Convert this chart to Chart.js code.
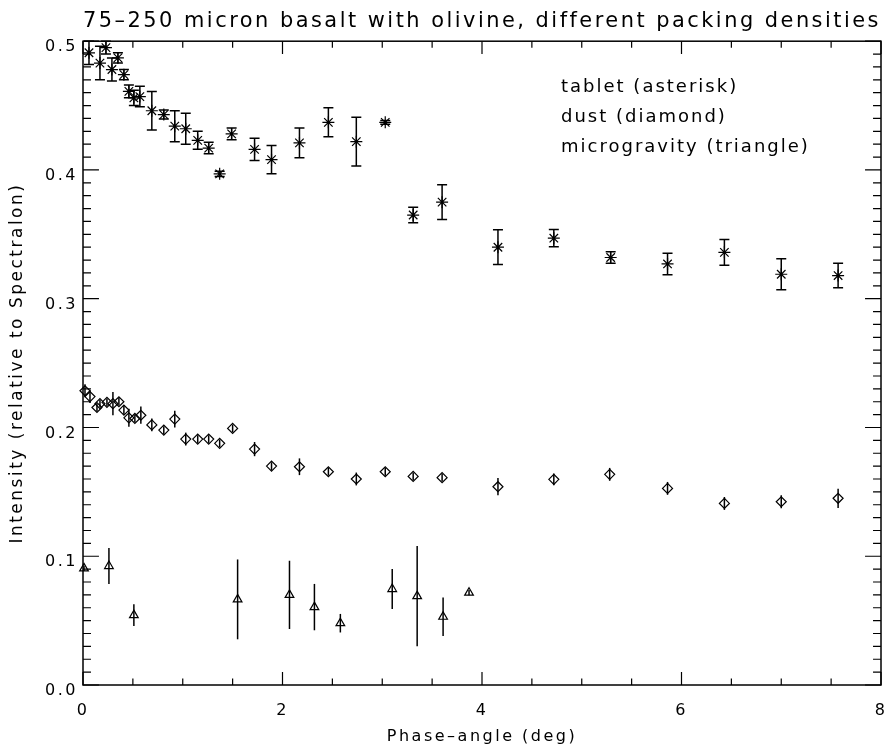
<!DOCTYPE html>
<html>
<head>
<meta charset="utf-8">
<script src="https://cdn.jsdelivr.net/npm/chart.js@4.4.1/dist/chart.umd.min.js"></script>
<style>
    html, body { margin: 0; padding: 0; background: #fff; }
</style>
</head>
<body>
<canvas id="phaseChart" width="891" height="749"></canvas>
<script>
// tablet (asterisk)
var tabletX = [0.06, 0.17, 0.23, 0.29, 0.35, 0.41, 0.46, 0.51, 0.57, 0.69, 0.81, 0.92, 1.03, 1.15, 1.26, 1.37,
               1.49, 1.72, 1.89, 2.17, 2.46, 2.74, 3.03, 3.31, 3.60, 4.16, 4.72, 5.29, 5.86, 6.43, 7.00, 7.57];
var tabletY = [0.491, 0.483, 0.495, 0.478, 0.487, 0.474, 0.461, 0.456, 0.457, 0.446, 0.443, 0.434, 0.432, 0.423, 0.417, 0.397,
               0.428, 0.416, 0.408, 0.421, 0.437, 0.422, 0.437, 0.365, 0.375, 0.340, 0.347, 0.332, 0.327, 0.336, 0.319, 0.318];
var tabletErr = [0.009, 0.013, 0.005, 0.009, 0.004, 0.004, 0.005, 0.006, 0.008, 0.015, 0.0035, 0.012, 0.012, 0.007, 0.0045, 0.002,
                 0.0045, 0.0087, 0.011, 0.0115, 0.0113, 0.019, 0.0015, 0.006, 0.0135, 0.0135, 0.0067, 0.0045, 0.0083, 0.010, 0.012, 0.0095];

// dust (diamond)
var dustX = [0.02, 0.07, 0.14, 0.17, 0.24, 0.30, 0.36, 0.41, 0.46, 0.52, 0.58, 0.69, 0.81, 0.92, 1.03, 1.15, 1.26,
             1.37, 1.50, 1.72, 1.89, 2.17, 2.46, 2.74, 3.03, 3.31, 3.60, 4.16, 4.72, 5.28, 5.86, 6.43, 7.00, 7.57];
var dustY = [0.2285, 0.224, 0.2155, 0.2185, 0.2195, 0.2185, 0.220, 0.2135, 0.2075, 0.207, 0.2095, 0.202, 0.198, 0.2065, 0.191, 0.191, 0.191,
             0.1877, 0.1993, 0.1832, 0.170, 0.1695, 0.1656, 0.160, 0.1656, 0.162, 0.161, 0.154, 0.1597, 0.1636, 0.1527, 0.141, 0.1423, 0.145];
var dustErr = [0.005, 0.005, 0.003, 0.003, 0.003, 0.009, 0.003, 0.0035, 0.007, 0.003, 0.0067, 0.005, 0.003, 0.0065, 0.005, 0.003, 0.003,
               0.003, 0.003, 0.0055, 0.003, 0.0065, 0.003, 0.005, 0.003, 0.003, 0.003, 0.0067, 0.0045, 0.005, 0.005, 0.005, 0.005, 0.0075];

// microgravity (triangle)
var gravX = [0.01, 0.26, 0.51, 1.55, 2.07, 2.32, 2.58, 3.10, 3.35, 3.61, 3.87];
var gravY = [0.0906, 0.0924, 0.0543, 0.0665, 0.070, 0.0605, 0.048, 0.0745, 0.069, 0.053, 0.0717];
var gravErr = [0.002, 0.014, 0.0084, 0.031, 0.0265, 0.018, 0.0072, 0.0155, 0.039, 0.015, 0.002];

var xTicks = [0, 2, 4, 6, 8];
var yTicks = [0.0, 0.1, 0.2, 0.3, 0.4, 0.5];
var xMinorStep = 0.5;
var yMinorStep = 0.01;

var legendLines = ["tablet (asterisk)", "dust (diamond)", "microgravity (triangle)"];

function toPoints(xs, ys) {
    return xs.map(function (x, i) { return { x: x, y: ys[i] }; });
}

// the old IDL font is wide, so space the letters out a bit
var wideText = {
    id: "wideText",
    beforeUpdate: function (chart) { chart.ctx.letterSpacing = "2.5px"; },
    beforeDraw: function (chart) { chart.ctx.letterSpacing = "2.5px"; }
};

// vertical error bars, drawn through the scales
var errorBars = {
    id: "errorBars",
    afterDatasetsDraw: function (chart) {
        var ctx = chart.ctx;
        var ys = chart.scales.y;
        ctx.save();
        ctx.strokeStyle = "#000";
        ctx.lineWidth = 1.5;
        chart.data.datasets.forEach(function (ds, i) {
            var meta = chart.getDatasetMeta(i);
            meta.data.forEach(function (pt, j) {
                var v = ds.data[j].y, e = ds.errors[j];
                var top = ys.getPixelForValue(v + e);
                var bot = ys.getPixelForValue(v - e);
                ctx.beginPath();
                ctx.moveTo(pt.x, top);
                ctx.lineTo(pt.x, bot);
                if (ds.capWidth) {
                    ctx.moveTo(pt.x - ds.capWidth, top);
                    ctx.lineTo(pt.x + ds.capWidth, top);
                    ctx.moveTo(pt.x - ds.capWidth, bot);
                    ctx.lineTo(pt.x + ds.capWidth, bot);
                }
                ctx.stroke();
            });
        });
        ctx.restore();
    }
};

// IDL style box with inward ticks on all four sides, plus the text legend
var axisBox = {
    id: "axisBox",
    afterDraw: function (chart) {
        var ctx = chart.ctx, a = chart.chartArea;
        var xs = chart.scales.x, ys = chart.scales.y;
        var w = a.right - a.left, h = a.bottom - a.top;
        ctx.save();
        ctx.strokeStyle = "#000";
        ctx.lineWidth = 1.5;
        ctx.strokeRect(a.left, a.top, w, h);

        ctx.lineWidth = 1.2;
        ctx.beginPath();
        for (var v = xs.min; v <= xs.max + 1e-9; v += xMinorStep) {
            var px = xs.getPixelForValue(v);
            var len = xTicks.indexOf(Math.round(v * 100) / 100) >= 0 ? 0.02 * h : 0.01 * h;
            ctx.moveTo(px, a.bottom); ctx.lineTo(px, a.bottom - len);
            ctx.moveTo(px, a.top); ctx.lineTo(px, a.top + len);
        }
        for (var k = 0; k <= Math.round((ys.max - ys.min) / yMinorStep); k++) {
            var val = Math.round((ys.min + k * yMinorStep) * 100) / 100;
            var py = ys.getPixelForValue(val);
            var ylen = yTicks.indexOf(val) >= 0 ? 0.02 * w : 0.01 * w;
            ctx.moveTo(a.left, py); ctx.lineTo(a.left + ylen, py);
            ctx.moveTo(a.right, py); ctx.lineTo(a.right - ylen, py);
        }
        ctx.stroke();

        ctx.fillStyle = "#000";
        ctx.font = "18px 'DejaVu Sans'";
        ctx.letterSpacing = "2px";
        ctx.textAlign = "left";
        ctx.textBaseline = "middle";
        legendLines.forEach(function (t, i) {
            ctx.fillText(t, 561, 87 + i * 30);
        });
        ctx.restore();
    }
};

var ctx = document.getElementById("phaseChart").getContext("2d");
var phaseChart = new Chart(ctx, {
    type: "scatter",
    data: {
        datasets: [
            {
                label: "tablet",
                data: toPoints(tabletX, tabletY),
                errors: tabletErr,
                capWidth: 5,
                pointStyle: "star",
                pointRadius: 6,
                pointBorderWidth: 1.2,
                pointBorderColor: "#000",
                pointBackgroundColor: "rgba(0,0,0,0)",
                clip: false
            },
            {
                label: "dust",
                data: toPoints(dustX, dustY),
                errors: dustErr,
                capWidth: 0,
                pointStyle: "rectRot",
                pointRadius: 5,
                pointBorderWidth: 1.2,
                pointBorderColor: "#000",
                pointBackgroundColor: "rgba(0,0,0,0)",
                clip: false
            },
            {
                label: "microgravity",
                data: toPoints(gravX, gravY),
                errors: gravErr,
                capWidth: 0,
                pointStyle: "triangle",
                pointRadius: 5,
                pointBorderWidth: 1.2,
                pointBorderColor: "#000",
                pointBackgroundColor: "rgba(0,0,0,0)",
                clip: false
            }
        ]
    },
    options: {
        responsive: false,
        animation: false,
        devicePixelRatio: 1,
        layout: { padding: { left: 0, right: 10, top: 0, bottom: 0 } },
        plugins: {
            legend: { display: false },
            tooltip: { enabled: false },
            title: {
                display: true,
                fullSize: false,
                text: "75\u2013250 micron basalt with olivine, different packing densities",
                color: "#000",
                font: { family: "'DejaVu Sans'", size: 21, weight: "normal", lineHeight: 1.2 },
                padding: { top: 9, bottom: 7 }
            }
        },
        scales: {
            x: {
                type: "linear",
                min: 0,
                max: 8,
                afterBuildTicks: function (axis) {
                    axis.ticks = xTicks.map(function (v) { return { value: v }; });
                },
                afterFit: function (axis) { axis.height = 64; },
                grid: { display: false, drawTicks: false },
                border: { display: false },
                ticks: {
                    color: "#000",
                    // tall line box pushes the labels down without adding side padding
                    font: { family: "'DejaVu Sans'", size: 16, lineHeight: 2.9 },
                    padding: 3,
                    maxRotation: 0,
                    callback: function (v) { return String(v); }
                },
                title: {
                    display: true,
                    text: "Phase\u2013angle (deg)",
                    color: "#000",
                    font: { family: "'DejaVu Sans'", size: 16, lineHeight: 1.2 },
                    padding: { top: 0, bottom: 3 }
                }
            },
            y: {
                type: "linear",
                min: 0,
                max: 0.5,
                afterBuildTicks: function (axis) {
                    axis.ticks = yTicks.map(function (v) { return { value: v }; });
                },
                afterFit: function (axis) { axis.width = 83; },
                grid: { display: false, drawTicks: false },
                border: { display: false },
                ticks: {
                    color: "#000",
                    font: { family: "'DejaVu Sans'", size: 16 },
                    padding: 5,
                    labelOffset: 6,
                    callback: function (v) { return v.toFixed(1); }
                },
                title: {
                    display: true,
                    text: "Intensity (relative to Spectralon)",
                    color: "#000",
                    font: { family: "'DejaVu Sans'", size: 17, lineHeight: 1.2 },
                    padding: { top: 7, bottom: 0 }
                }
            }
        }
    },
    plugins: [wideText, errorBars, axisBox]
});
</script>
</body>
</html>
